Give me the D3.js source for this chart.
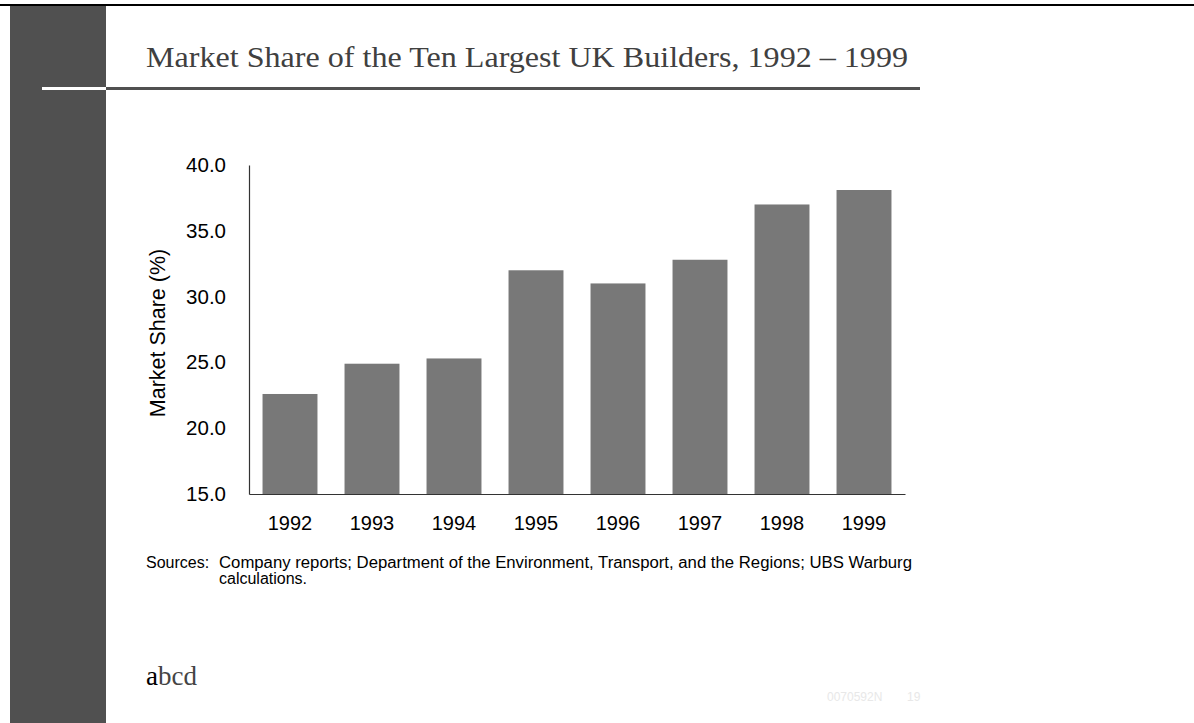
<!DOCTYPE html>
<html>
<head>
<meta charset="utf-8">
<script src="https://cdn.jsdelivr.net/npm/d3@7"></script>
<style>
  body { margin: 0; background: #fff; }
  svg { display: block; }
</style>
</head>
<body>
<div class="chart"></div>
<script>
// Chart data
const years = ["1992", "1993", "1994", "1995", "1996", "1997", "1998", "1999"];
const marketShare = [22.6, 24.9, 25.3, 32.0, 31.0, 32.8, 37.0, 38.1];
const yTicks = [15, 20, 25, 30, 35, 40];

const titleText = "Market Share of the Ten Largest UK Builders, 1992 \u2013 1999";
const yLabelText = "Market Share (%)";
const sourceLines = [
  "Company reports; Department of the Environment, Transport, and the Regions; UBS Warburg",
  "calculations."
];

const sans = "'Liberation Sans', Arial, sans-serif";
const serif = "'Liberation Serif', 'Times New Roman', serif";

const svg = d3.select(".chart")
  .append("svg")
  .attr("width", 1194)
  .attr("height", 723);

// Page furniture: top rule, side bar, title rule
svg.append("rect")
  .attr("x", 10).attr("y", 6)
  .attr("width", 96).attr("height", 717)
  .attr("fill", "#505050");

svg.append("rect")
  .attr("x", 0).attr("y", 4)
  .attr("width", 1194).attr("height", 2)
  .attr("fill", "#000");

svg.append("rect")
  .attr("x", 42).attr("y", 87)
  .attr("width", 64).attr("height", 3)
  .attr("fill", "#fff");

svg.append("rect")
  .attr("x", 106).attr("y", 87)
  .attr("width", 814).attr("height", 3)
  .attr("fill", "#505050");

svg.append("text")
  .attr("x", 146).attr("y", 67)
  .attr("textLength", 762)
  .attr("lengthAdjust", "spacingAndGlyphs")
  .style("font-family", serif)
  .style("font-size", "29px")
  .attr("fill", "#404040")
  .text(titleText);

// Scales
const x = d3.scaleBand()
  .domain(years)
  .range([249, 905])
  .paddingInner(0.33)
  .paddingOuter(0.165);

const y = d3.scaleLinear()
  .domain([15, 40])
  .range([494, 165]);

// Bars
svg.selectAll("rect.bar")
  .data(years)
  .enter()
  .append("rect")
  .attr("class", "bar")
  .attr("x", d => x(d))
  .attr("width", x.bandwidth())
  .attr("y", (d, i) => y(marketShare[i]))
  .attr("height", (d, i) => y(15) - y(marketShare[i]))
  .attr("fill", "#787878");

// Axes
const yAxis = d3.axisLeft(y)
  .tickValues(yTicks)
  .tickFormat(d3.format(".1f"))
  .tickSize(0)
  .tickPadding(23);

const yG = svg.append("g")
  .attr("transform", "translate(249,0)")
  .call(yAxis);
yG.select(".domain").attr("stroke", "#333").attr("stroke-width", 1.2);
yG.selectAll("text")
  .style("font-family", sans)
  .style("font-size", "20.5px")
  .attr("fill", "#000");

const xAxis = d3.axisBottom(x)
  .tickSize(0)
  .tickPadding(22);

const xG = svg.append("g")
  .attr("transform", "translate(0,494)")
  .call(xAxis);
xG.select(".domain").attr("stroke", "#333").attr("stroke-width", 1.2);
xG.selectAll("text")
  .style("font-family", sans)
  .style("font-size", "20px")
  .attr("fill", "#000");

// Y axis title
svg.append("text")
  .attr("transform", "translate(165,333) rotate(-90)")
  .attr("text-anchor", "middle")
  .style("font-family", sans)
  .style("font-size", "21.5px")
  .attr("fill", "#000")
  .text(yLabelText);

// Sources note
const note = svg.append("g")
  .style("font-family", sans)
  .style("font-size", "16px")
  .attr("fill", "#000");
note.append("text").attr("x", 146).attr("y", 568).text("Sources:");
note.selectAll("text.src")
  .data(sourceLines)
  .enter()
  .append("text")
  .attr("class", "src")
  .attr("x", 219)
  .attr("y", (d, i) => 568 + i * 16)
  .text(d => d);
note.select("text.src")
  .attr("textLength", 693)
  .attr("lengthAdjust", "spacingAndGlyphs");

// Footer
const logo = svg.append("text")
  .attr("x", 146).attr("y", 685)
  .style("font-family", serif)
  .style("font-size", "27px");
logo.append("tspan").attr("fill", "#000").text("a");
logo.append("tspan").attr("fill", "#444").text("bcd");

svg.append("text")
  .attr("x", 827).attr("y", 701)
  .style("font-family", sans)
  .style("font-size", "12px")
  .attr("fill", "#e8e8e8")
  .text("0070592N");

svg.append("text")
  .attr("x", 907).attr("y", 701)
  .style("font-family", sans)
  .style("font-size", "12px")
  .attr("fill", "#e8e8e8")
  .text("19");
</script>
</body>
</html>
